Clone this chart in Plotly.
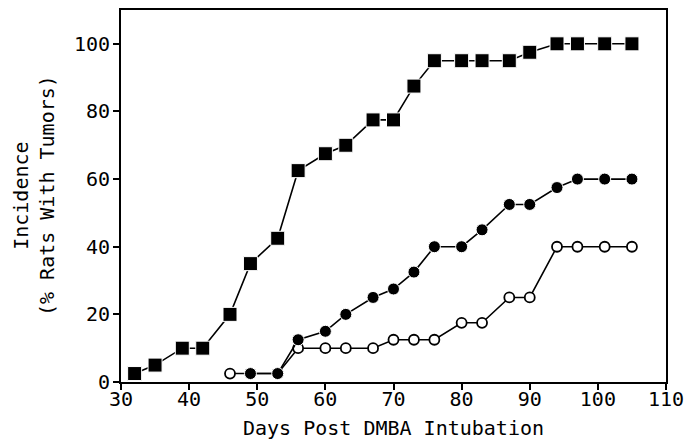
import plotly.graph_objects as go

# Days post DMBA intubation
days_sq = [32, 35, 39, 42, 46, 49, 53, 56, 60, 63, 67, 70, 73, 76, 80, 83, 87, 90, 94, 97, 101, 105]
inc_sq = [2.5, 5, 10, 10, 20, 35, 42.5, 62.5, 67.5, 70, 77.5, 77.5, 87.5, 95, 95, 95, 95, 97.5, 100, 100, 100, 100]

days_fc = [49, 53, 56, 60, 63, 67, 70, 73, 76, 80, 83, 87, 90, 94, 97, 101, 105]
inc_fc = [2.5, 2.5, 12.5, 15, 20, 25, 27.5, 32.5, 40, 40, 45, 52.5, 52.5, 57.5, 60, 60, 60]

days_oc = [46, 49, 53, 56, 60, 63, 67, 70, 73, 76, 80, 83, 87, 90, 94, 97, 101, 105]
inc_oc = [2.5, 2.5, 2.5, 10, 10, 10, 10, 12.5, 12.5, 12.5, 17.5, 17.5, 25, 25, 40, 40, 40, 40]

x_ticks = [30, 40, 50, 60, 70, 80, 90, 100, 110]
y_ticks = [0, 20, 40, 60, 80, 100]

FONT = "DejaVu Sans Mono"

fig = go.Figure()
fig.add_trace(go.Scatter(
    x=days_oc, y=inc_oc, mode="lines+markers",
    line=dict(color="black", width=1.6),
    marker=dict(symbol="circle", size=10, color="white",
                line=dict(color="black", width=1.8)),
    showlegend=False))
fig.add_trace(go.Scatter(
    x=days_fc, y=inc_fc, mode="lines+markers",
    line=dict(color="black", width=1.6),
    marker=dict(symbol="circle", size=12, color="black",
                line=dict(color="white", width=1)),
    showlegend=False))
fig.add_trace(go.Scatter(
    x=days_sq, y=inc_sq, mode="lines+markers",
    line=dict(color="black", width=1.6),
    marker=dict(symbol="square", size=14, color="black",
                line=dict(color="white", width=1)),
    showlegend=False))

fig.update_layout(
    width=678, height=432,
    margin=dict(l=113, r=20, t=2, b=58),
    paper_bgcolor="white", plot_bgcolor="white",
    font=dict(family=FONT, size=20, color="black"),
    xaxis=dict(range=[30, 110], tickvals=x_ticks, ticks="outside", ticklen=6,
               tickwidth=1.5, tickcolor="black", showgrid=False, zeroline=False,
               showline=True, linecolor="black", linewidth=2, mirror=True,
               ticklabelstandoff=-8, automargin=False,
               title=dict(text="Days Post DMBA Intubation", standoff=17,
                          font=dict(family=FONT, size=20))),
    yaxis=dict(range=[0, 110], tickvals=y_ticks, ticks="outside", ticklen=6,
               tickwidth=1.5, tickcolor="black", showgrid=False, zeroline=False,
               showline=True, linecolor="black", linewidth=2, mirror=True,
               ticklabelstandoff=-1, automargin=False),
    annotations=[
        dict(text="Incidence<br>(% Rats With Tumors)", textangle=-90,
             xref="paper", yref="paper", x=-0.1596, y=0.5,
             xanchor="center", yanchor="middle", showarrow=False,
             font=dict(family=FONT, size=20))
    ],
)

fig.write_html("out.html")
